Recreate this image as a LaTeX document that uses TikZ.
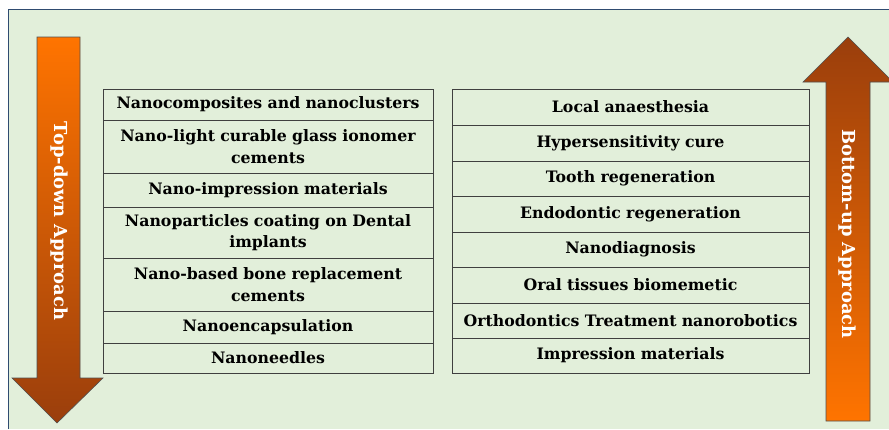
\documentclass[tikz,border=0pt]{standalone}
\usepackage{fontspec}
\setmainfont{DejaVu Serif}
\begin{document}
\begin{tikzpicture}[x=1pt,y=-1pt,
  cell/.style={draw=cellline, line width=0.8pt, inner sep=0pt, align=center,
    font=\bfseries\fontsize{15.75}{21.5}\selectfont, text=black},
  lcell/.style={cell, minimum width=330pt, text width=325pt},
  rcell/.style={cell, minimum width=357pt, text width=352pt},
  arrowshape/.style={draw=arrline, line width=0.6pt},
  arrowtext/.style={text=white, font=\bfseries\fontsize{17.9}{20}\selectfont, rotate=-90, inner sep=0pt}
]
\definecolor{bg}{HTML}{E2EFDA}
\definecolor{frame}{HTML}{2F4B70}
\definecolor{cellline}{HTML}{3F3F3F}
\definecolor{arrline}{HTML}{505050}
\definecolor{orangetop}{HTML}{FF7400}
\definecolor{brownbot}{HTML}{9A3E0C}
\useasboundingbox (0,0) rectangle (889,429);
\fill[white] (0,0) rectangle (889,429);
\fill[bg] (8,9) rectangle (889,429);
\draw[frame, line width=0.8pt] (8,429) -- (8,9) -- (889,9);
% left arrow
\shade[arrowshape, top color=orangetop, bottom color=brownbot]
  (37,37) -- (80,37) -- (80,378) -- (103,378) -- (57,423) -- (12,378) -- (37,378) -- cycle;
\node[arrowtext] (td) at (59,221) {Top-down Approach};
% right arrow
\shade[arrowshape, top color=brownbot, bottom color=orangetop]
  (848,37) -- (893,82) -- (870,82) -- (870,421) -- (826,421) -- (826,82) -- (803,82) -- cycle;
\node[arrowtext] (bu) at (847,234) {Bottom-up Approach};
% left table
\node[lcell, minimum height=31pt] (l1) at (268,104.5) {Nanocomposites and nanoclusters};
\node[lcell, minimum height=53pt] (l2) at (268,146.5) {Nano-light curable glass ionomer\\cements};
\node[lcell, minimum height=34pt] (l3) at (268,190) {Nano-impression materials};
\node[lcell, minimum height=51pt] (l4) at (268,232.5) {Nanoparticles coating on Dental\\implants};
\node[lcell, minimum height=53pt] (l5) at (268,284.5) {Nano-based bone replacement\\cements};
\node[lcell, minimum height=32pt] (l6) at (268,327) {Nanoencapsulation};
\node[lcell, minimum height=30pt] (l7) at (268,358) {Nanoneedles};
% right table
\node[rcell, minimum height=36pt] (r1) at (630.5,107) {Local anaesthesia};
\node[rcell, minimum height=36pt] (r2) at (630.5,143) {Hypersensitivity cure};
\node[rcell, minimum height=35pt] (r3) at (630.5,178.5) {Tooth regeneration};
\node[rcell, minimum height=36pt] (r4) at (630.5,214) {Endodontic regeneration};
\node[rcell, minimum height=35pt] (r5) at (630.5,249.5) {Nanodiagnosis};
\node[rcell, minimum height=36pt] (r6) at (630.5,285) {Oral tissues biomemetic};
\node[rcell, minimum height=35pt] (r7) at (630.5,320.5) {Orthodontics Treatment nanorobotics};
\node[rcell, minimum height=35pt] (r8) at (630.5,355.5) {Impression materials};
\end{tikzpicture}
\end{document}
